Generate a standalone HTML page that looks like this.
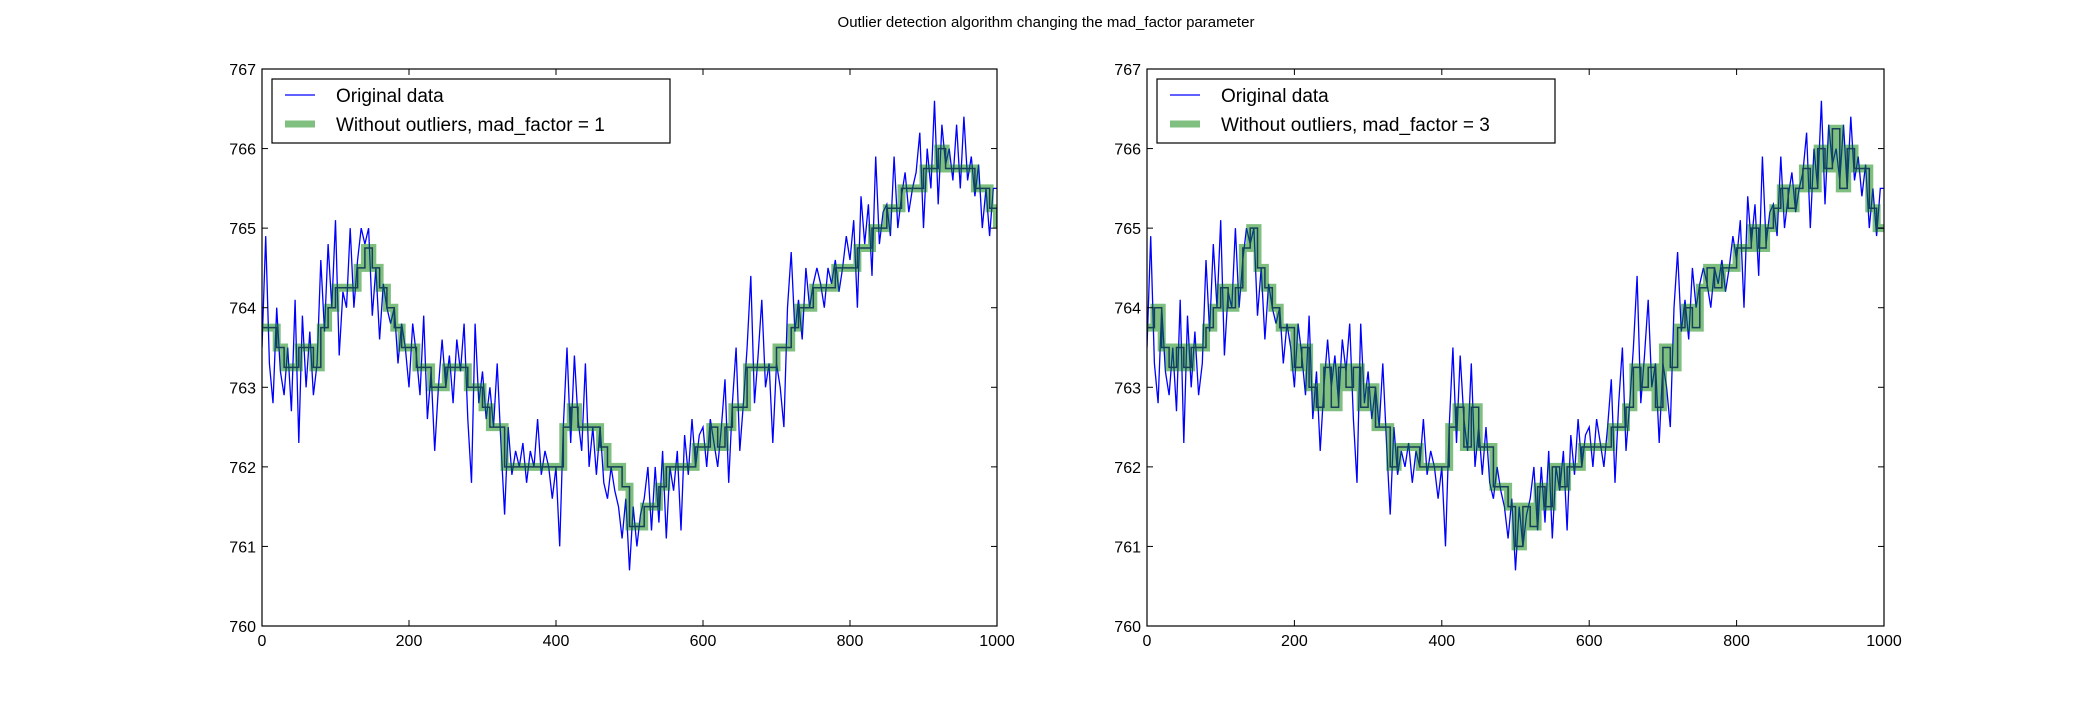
<!DOCTYPE html>
<html><head><meta charset="utf-8"><style>
body{margin:0;background:#fff;}
svg text{font-family:"Liberation Sans","DejaVu Sans",sans-serif;}
</style></head><body>
<svg id="fig" width="2093" height="697" viewBox="0 0 2093 697" xmlns="http://www.w3.org/2000/svg">
<rect width="2093" height="697" fill="#fff"/>
<text x="1046" y="27" font-size="15" text-anchor="middle">Outlier detection algorithm changing the mad_factor parameter</text>
</svg>
<script>
const xTicks=[0,200,400,600,800,1000];
const yTicks=[760,761,762,763,764,765,766,767];
const original=[763.5,764.9,763.3,762.8,764.0,763.2,762.9,763.5,762.7,764.1,
762.3,763.9,763.0,763.7,762.9,763.3,764.6,763.7,764.8,764.0,
765.1,763.4,764.2,764.0,765.0,764.0,764.6,765.0,764.8,765.0,
763.9,764.5,763.6,764.3,764.0,763.8,764.0,763.3,763.8,763.5,
763.0,763.8,763.4,762.9,763.9,762.6,763.2,762.2,763.0,763.6,
763.0,763.4,762.8,763.6,763.2,763.8,762.6,761.8,763.8,762.8,
763.2,762.6,763.0,762.5,763.3,762.3,761.4,762.5,761.9,762.2,
762.0,762.3,761.8,762.2,762.0,762.6,761.9,762.2,762.0,761.6,
762.0,761.0,762.5,763.5,762.3,763.4,762.6,762.2,763.3,762.0,
762.5,761.9,762.5,761.8,761.6,762.0,761.7,761.5,761.1,761.6,
760.7,761.5,761.0,761.4,761.6,762.0,761.2,762.0,761.3,762.2,
761.1,762.0,761.7,762.2,761.2,762.4,761.9,762.6,762.0,762.4,
762.5,762.0,762.6,762.3,762.0,762.5,763.1,761.8,762.8,763.5,
762.2,762.8,763.5,764.4,762.8,763.4,764.1,763.0,763.3,762.3,
763.3,763.0,762.5,764.0,764.7,763.7,764.1,763.6,764.5,764.0,
764.3,764.5,764.3,764.0,764.5,764.3,764.6,764.2,764.5,764.9,
764.6,765.1,764.0,765.4,764.8,765.3,764.4,765.9,764.8,765.2,
765.3,764.9,765.9,765.0,765.4,765.7,765.2,765.5,765.7,766.2,
765.0,766.0,765.5,766.6,765.3,766.3,765.8,766.0,765.6,766.3,
765.5,766.4,765.6,765.9,765.4,765.8,765.0,765.5,764.9,765.5];
const filtered1=[763.75,763.75,763.5,763.25,763.25,763.5,763.5,763.25,763.75,764,
764.25,764.25,764.25,764.5,764.75,764.5,764.25,764,763.75,763.5,
763.5,763.25,763.25,763,763,763.25,763.25,763.25,763,763,
762.75,762.5,762.5,762,762,762,762,762,762,762,
762,762.5,762.75,762.5,762.5,762.5,762.25,762,762,761.75,
761.25,761.25,761.5,761.5,761.75,762,762,762,762,762.25,
762.25,762.5,762.25,762.5,762.75,762.75,763.25,763.25,763.25,763.25,
763.5,763.5,763.75,764,764,764.25,764.25,764.25,764.5,764.5,
764.5,764.75,764.75,765,765,765.25,765.25,765.5,765.5,765.5,
765.75,765.75,766,765.75,765.75,765.75,765.75,765.5,765.5,765.25,765];
const filtered3=[763.75,764,763.5,763.25,763.5,763.25,763.5,763.5,763.75,764,
764.25,764,764.25,764.75,765,764.5,764.25,764,763.75,763.75,
763.25,763.5,763,762.75,763.25,762.75,763.25,763,763.25,762.75,
763,762.5,762.5,762,762.25,762.25,762.25,762,762,762,
762,762.5,762.75,762.25,762.75,762.25,762.25,761.75,761.75,761.5,
761,761.5,761.25,761.75,761.5,762,761.75,762,762,762.25,
762.25,762.25,762.25,762.5,762.5,762.75,763.25,763,763.25,762.75,
763.5,763.25,763.75,764,763.75,764.25,764.5,764.25,764.5,764.5,
764.75,764.75,765,764.75,765,765.25,765.5,765.25,765.5,765.75,
765.5,766,765.75,766.25,765.5,766,765.75,765.75,765.25,765,765];
const origStep=5, filtStep=10;
const NS='http://www.w3.org/2000/svg';
const svg=document.getElementById('fig');
function mk(tag,attrs,parent){const e=document.createElementNS(NS,tag);for(const k in attrs)e.setAttribute(k,attrs[k]);(parent||svg).appendChild(e);return e;}
function panel(x0,x1,filt,label,pid){
  const y0=69,y1=626;
  const g=mk('g',{});
  
  
  const sx=v=>x0+(v/1000)*(x1-x0);
  const sy=v=>y1-(v-760)/7*(y1-y0);
  const clip=mk('clipPath',{id:'c'+pid},g);mk('rect',{x:x0,y:y0,width:x1-x0,height:y1-y0},clip);
  let d='';original.forEach((v,i)=>{d+=(i?'L':'M')+sx(i*origStep).toFixed(1)+','+sy(v).toFixed(1);});
  d+='L'+sx(1000)+','+sy(original[original.length-1]).toFixed(1);
  const ol=mk('path',{d:d,fill:'none',stroke:'#0000ff','stroke-width':1.3,'clip-path':'url(#c'+pid+')'},g);
  
  
  let s='';filt.forEach((v,i)=>{const x=sx(i*filtStep),y=sy(v);if(i===0)s+='M'+x+','+y;else{s+='L'+x.toFixed(1)+','+sy(filt[i-1]).toFixed(1)+'L'+x.toFixed(1)+','+y.toFixed(1);}});
  const fl=mk('path',{d:s,fill:'none',stroke:'#008000','stroke-opacity':0.5,'stroke-width':8,'clip-path':'url(#c'+pid+')'},g);
  
  
  const fc=mk('path',{d:s,fill:'none',stroke:'#173f5a','stroke-width':1.5,'clip-path':'url(#c'+pid+')'},g);
  
  
  const fr=mk('rect',{x:x0,y:y0,width:x1-x0,height:y1-y0,fill:'none',stroke:'#000','stroke-width':1.2},g);
  
  
  xTicks.forEach(t=>{const x=sx(t);
    mk('line',{x1:x,x2:x,y1:y1,y2:y1-6,stroke:'#000'},g);mk('line',{x1:x,x2:x,y1:y0,y2:y0+6,stroke:'#000'},g);
    const tx=mk('text',{x:x,y:y1+20,'font-size':16,'text-anchor':'middle'},g);tx.textContent=t;
    
    });
  yTicks.forEach(t=>{const y=sy(t);
    mk('line',{x1:x0,x2:x0+6,y1:y,y2:y,stroke:'#000'},g);mk('line',{x1:x1,x2:x1-6,y1:y,y2:y,stroke:'#000'},g);
    const tx=mk('text',{x:x0-6,y:y+6,'font-size':16,'text-anchor':'end'},g);tx.textContent=t;
    
    });
  const lg=mk('g',{},g);
  
  
  const lw=398;
  mk('rect',{x:x0+10,y:79,width:lw,height:64,fill:'#fff',stroke:'#000','stroke-width':1.2},lg);
  mk('line',{x1:x0+23,x2:x0+53,y1:95,y2:95,stroke:'#0000ff','stroke-width':1.3},lg);
  mk('line',{x1:x0+23,x2:x0+53,y1:124,y2:124,stroke:'#008000','stroke-opacity':0.5,'stroke-width':7},lg);
  const t1=mk('text',{x:x0+74,y:102,'font-size':19},lg);t1.textContent='Original data';
  
  
  const t2=mk('text',{x:x0+74,y:131,'font-size':19},lg);t2.textContent=label;
  
  
}
panel(262,997,filtered1,'Without outliers, mad_factor = 1','left-panel');
panel(1147,1884,filtered3,'Without outliers, mad_factor = 3','right-panel');
</script>
</body></html>
